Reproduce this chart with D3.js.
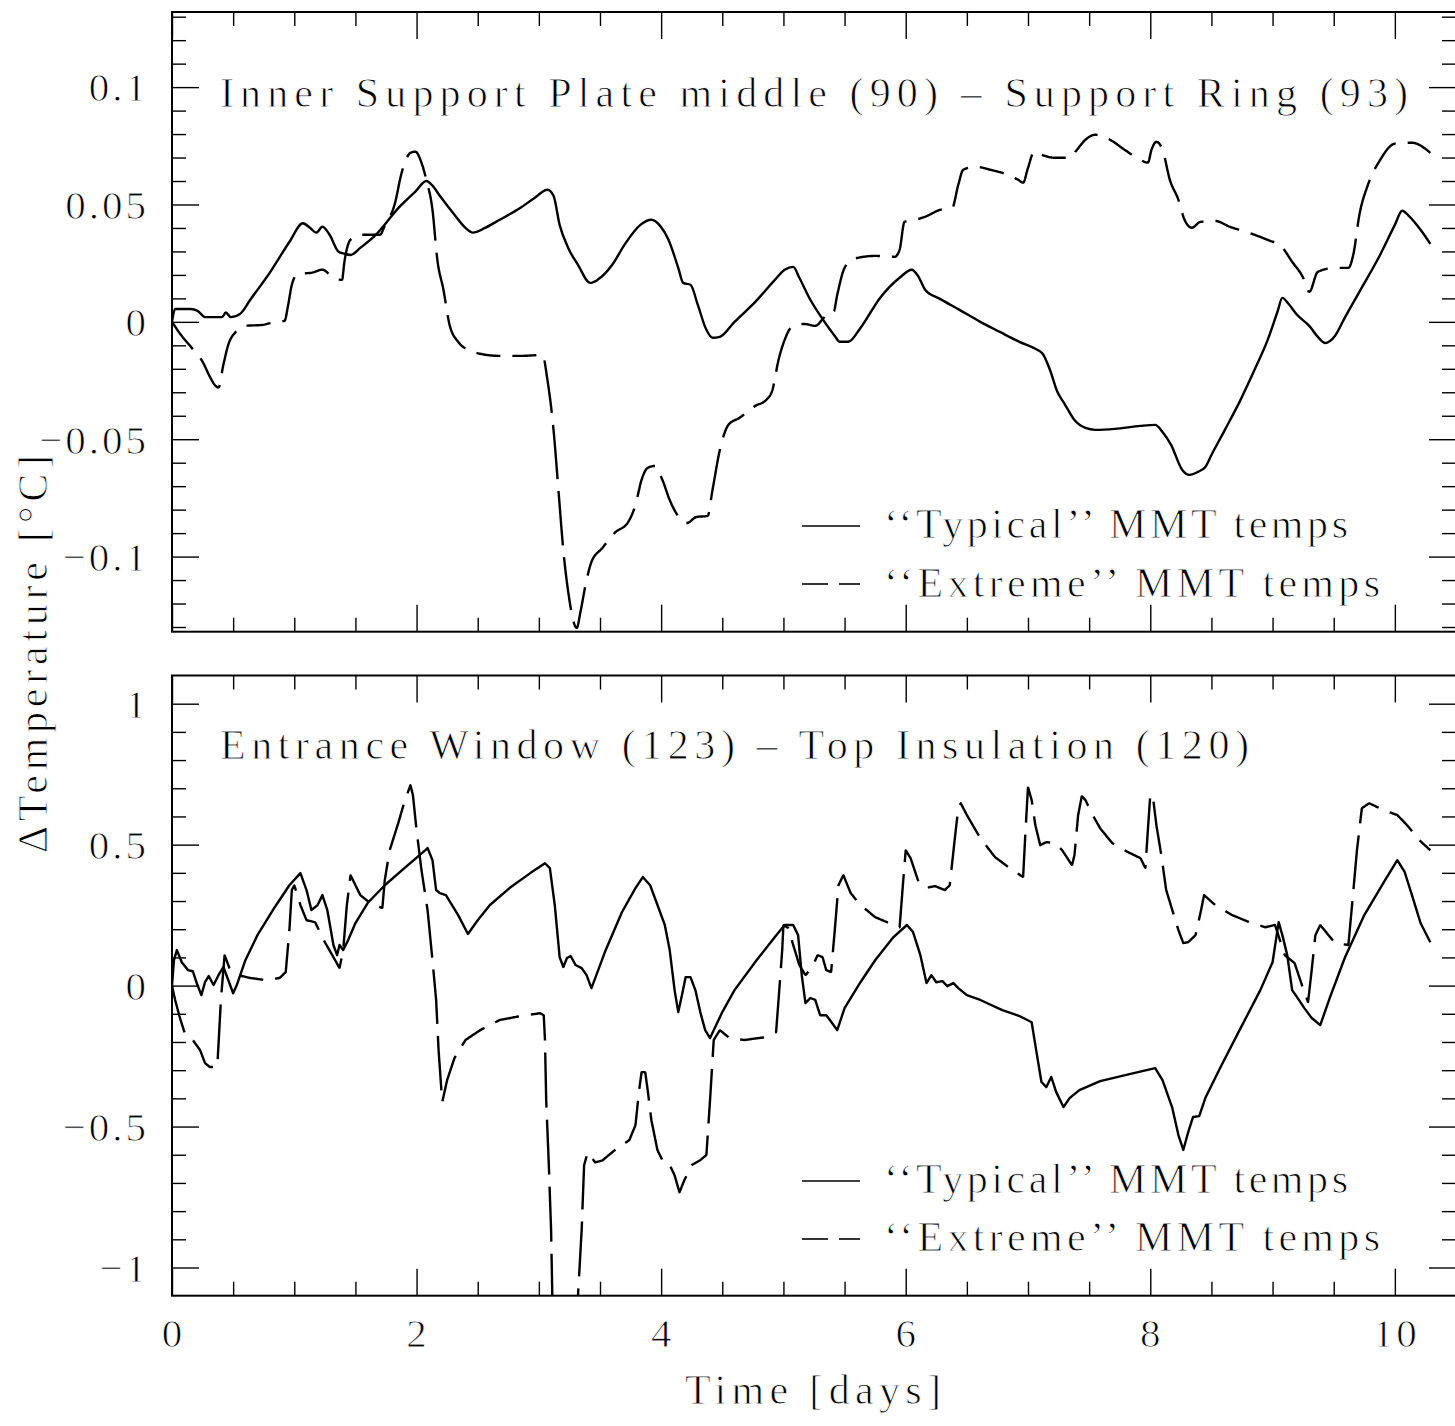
<!DOCTYPE html>
<html><head><meta charset="utf-8">
<script src="https://cdn.jsdelivr.net/npm/d3@7"></script>
<style>
body{margin:0;background:#fff}
text{font-family:"Liberation Serif","Times New Roman",serif;fill:#000;stroke:#fff;stroke-width:0.9px;paint-order:normal}
</style>
</head><body>
<svg id="chart" width="1455" height="1426"></svg>
<script>
// ---------------- DATA ----------------
const seriesNames = ["\u2018\u2018Typical\u2019\u2019 MMT temps", "\u2018\u2018Extreme\u2019\u2019 MMT temps"];
const panelTitles = ["Inner Support Plate middle (90) \u2013 Support Ring (93)",
                     "Entrance Window (123) \u2013 Top Insulation (120)"];
const xLabel = "Time [days]";
const yLabel = "\u0394Temperature [\u00B0C]";

const xTickValues = [0, 2, 4, 6, 8, 10];
const xTickLabels = ["0", "2", "4", "6", "8", "10"];
const topYTickValues = [-0.1, -0.05, 0, 0.05, 0.1];
const topYTickLabels = ["\u22120.1", "\u22120.05", "0", "0.05", "0.1"];
const bottomYTickValues = [-1, -0.5, 0, 0.5, 1];
const bottomYTickLabels = ["\u22121", "\u22120.5", "0", "0.5", "1"];

// [time (days), delta T (C)]
const topTypical = [[0,0],[0.025,0.0055],[0.15,0.0055],[0.21,0.0047],[0.27,0.002],[0.41,0.002],[0.44,0.004],[0.48,0.002],[0.56,0.0035],[0.64,0.0094],[0.8,0.021],[0.96,0.034],[1.07,0.042],[1.13,0.040],[1.18,0.038],[1.23,0.0405],[1.29,0.037],[1.36,0.030],[1.41,0.029],[1.46,0.0285],[1.54,0.0315],[1.66,0.0367],[1.86,0.049],[1.99,0.0555],[2.08,0.060],[2.13,0.058],[2.19,0.0537],[2.31,0.0456],[2.4,0.040],[2.46,0.038],[2.56,0.040],[2.68,0.0435],[2.85,0.0486],[2.97,0.053],[3.07,0.0563],[3.12,0.0537],[3.17,0.0413],[3.24,0.0315],[3.32,0.0243],[3.42,0.0166],[3.48,0.0179],[3.6,0.0243],[3.7,0.0328],[3.83,0.0413],[3.92,0.0435],[3.99,0.041],[4.06,0.035],[4.14,0.023],[4.18,0.0166],[4.24,0.0158],[4.3,0.0072],[4.37,-0.0034],[4.42,-0.0068],[4.48,-0.0064],[4.6,0.0],[4.77,0.0085],[4.93,0.0179],[5.01,0.0222],[5.08,0.0234],[5.13,0.0188],[5.22,0.0094],[5.31,0.002],[5.42,-0.006],[5.46,-0.0085],[5.53,-0.0085],[5.63,-0.0026],[5.79,0.0102],[5.95,0.0188],[6.05,0.0222],[6.1,0.0196],[6.16,0.0136],[6.28,0.0098],[6.44,0.0051],[6.61,0.0],[6.77,-0.0043],[6.93,-0.0085],[7.06,-0.0115],[7.12,-0.0136],[7.18,-0.0205],[7.24,-0.0298],[7.3,-0.035],[7.38,-0.0418],[7.47,-0.0452],[7.55,-0.046],[7.71,-0.0456],[7.92,-0.0443],[8.04,-0.0439],[8.1,-0.0469],[8.17,-0.0524],[8.26,-0.063],[8.32,-0.0652],[8.39,-0.0639],[8.45,-0.0618],[8.5,-0.0567],[8.61,-0.046],[8.73,-0.0341],[8.86,-0.0196],[8.96,-0.0077],[9.04,0.0043],[9.08,0.0102],[9.13,0.0077],[9.2,0.003],[9.3,-0.0017],[9.37,-0.0064],[9.43,-0.009],[9.51,-0.006],[9.59,0.0017],[9.71,0.0128],[9.88,0.0286],[10.0,0.0413],[10.06,0.0473],[10.12,0.0448],[10.21,0.0392],[10.29,0.0332]];

const topExtreme = [[0,0],[0.065,-0.005],[0.16,-0.011],[0.25,-0.017],[0.31,-0.0234],[0.35,-0.0269],[0.38,-0.028],[0.42,-0.0183],[0.46,-0.0098],[0.52,-0.0043],[0.6,-0.0017],[0.74,-0.0013],[0.84,0.0],[0.92,0.0004],[0.95,0.0072],[0.98,0.0158],[1.03,0.0205],[1.14,0.0209],[1.23,0.0222],[1.32,0.0188],[1.39,0.0179],[1.41,0.0256],[1.46,0.035],[1.55,0.0371],[1.7,0.0371],[1.74,0.0409],[1.82,0.0499],[1.88,0.0639],[1.95,0.072],[1.99,0.0725],[2.04,0.0678],[2.08,0.0605],[2.13,0.0477],[2.17,0.0264],[2.22,0.0136],[2.27,-0.0013],[2.34,-0.0085],[2.42,-0.0119],[2.52,-0.0136],[2.68,-0.0145],[2.85,-0.0145],[3.03,-0.0141],[3.07,-0.0247],[3.12,-0.046],[3.16,-0.0716],[3.2,-0.0972],[3.25,-0.1185],[3.28,-0.127],[3.31,-0.1304],[3.34,-0.1236],[3.39,-0.11],[3.43,-0.1023],[3.52,-0.0963],[3.62,-0.0899],[3.73,-0.0853],[3.79,-0.078],[3.84,-0.0673],[3.89,-0.0622],[3.95,-0.0614],[4.01,-0.0673],[4.07,-0.0759],[4.15,-0.0835],[4.21,-0.0857],[4.29,-0.0831],[4.38,-0.0827],[4.42,-0.0716],[4.48,-0.0546],[4.55,-0.0439],[4.64,-0.0409],[4.77,-0.0358],[4.86,-0.0332],[4.91,-0.029],[4.96,-0.0162],[5.01,-0.0077],[5.07,-0.0021],[5.17,-0.0009],[5.26,-0.0017],[5.33,0.0017],[5.38,0.0043],[5.41,0.0043],[5.44,0.0115],[5.5,0.023],[5.58,0.0269],[5.75,0.0281],[5.91,0.0277],[5.95,0.0307],[5.99,0.0426],[6.08,0.0435],[6.16,0.0448],[6.28,0.0477],[6.38,0.0486],[6.43,0.0584],[6.47,0.0648],[6.57,0.0661],[6.69,0.0648],[6.81,0.0631],[6.92,0.0605],[6.96,0.0593],[7.0,0.0656],[7.05,0.0725],[7.11,0.0712],[7.22,0.0699],[7.34,0.0699],[7.4,0.0733],[7.47,0.0776],[7.55,0.0797],[7.67,0.0776],[7.79,0.0733],[7.92,0.069],[7.98,0.0678],[8.01,0.0733],[8.05,0.0767],[8.1,0.0733],[8.16,0.0605],[8.23,0.052],[8.28,0.0435],[8.34,0.0401],[8.41,0.0426],[8.53,0.043],[8.65,0.0405],[8.81,0.0379],[8.98,0.0345],[9.06,0.0328],[9.16,0.0256],[9.25,0.0188],[9.3,0.0128],[9.37,0.0213],[9.51,0.023],[9.62,0.023],[9.66,0.0286],[9.71,0.0456],[9.78,0.0584],[9.88,0.069],[10.0,0.0759],[10.14,0.0763],[10.25,0.0737],[10.29,0.072]];

const bottomTypical = [[0,0.0],[0.016,0.09],[0.04,0.126],[0.08,0.083],[0.13,0.055],[0.17,0.051],[0.2,0.012],[0.24,-0.034],[0.27,0.012],[0.3,0.034],[0.34,0.002],[0.38,0.037],[0.42,0.066],[0.46,0.02],[0.5,-0.027],[0.53,0.002],[0.6,0.09],[0.7,0.18],[0.84,0.278],[0.96,0.356],[1.05,0.399],[1.1,0.339],[1.14,0.268],[1.19,0.285],[1.23,0.321],[1.27,0.268],[1.32,0.144],[1.35,0.108],[1.37,0.144],[1.4,0.126],[1.44,0.161],[1.5,0.222],[1.6,0.293],[1.74,0.356],[1.91,0.42],[2.07,0.48],[2.09,0.488],[2.13,0.445],[2.16,0.339],[2.19,0.328],[2.24,0.321],[2.34,0.25],[2.42,0.183],[2.5,0.232],[2.6,0.286],[2.76,0.346],[2.93,0.399],[3.05,0.434],[3.09,0.417],[3.13,0.286],[3.17,0.101],[3.2,0.066],[3.23,0.098],[3.26,0.105],[3.3,0.073],[3.35,0.062],[3.39,0.037],[3.43,-0.009],[3.47,0.037],[3.54,0.119],[3.68,0.261],[3.79,0.346],[3.85,0.385],[3.91,0.356],[3.97,0.286],[4.03,0.215],[4.07,0.126],[4.11,-0.016],[4.14,-0.094],[4.17,-0.034],[4.2,0.03],[4.24,0.03],[4.28,-0.016],[4.32,-0.094],[4.36,-0.158],[4.4,-0.186],[4.45,-0.14],[4.5,-0.094],[4.6,-0.016],[4.78,0.09],[4.93,0.172],[5.01,0.215],[5.08,0.215],[5.12,0.179],[5.15,0.037],[5.18,-0.062],[5.22,-0.044],[5.26,-0.051],[5.3,-0.105],[5.35,-0.105],[5.38,-0.122],[5.44,-0.158],[5.5,-0.08],[5.63,0.012],[5.75,0.09],[5.9,0.172],[6.01,0.215],[6.06,0.19],[6.12,0.108],[6.17,0.009],[6.21,0.037],[6.25,0.012],[6.3,0.016],[6.34,-0.002],[6.39,0.009],[6.43,-0.009],[6.5,-0.034],[6.61,-0.051],[6.79,-0.087],[6.93,-0.108],[7.03,-0.13],[7.06,-0.211],[7.11,-0.342],[7.15,-0.36],[7.19,-0.324],[7.23,-0.377],[7.29,-0.431],[7.34,-0.399],[7.42,-0.371],[7.59,-0.339],[7.83,-0.314],[8.04,-0.293],[8.1,-0.335],[8.18,-0.434],[8.23,-0.53],[8.27,-0.583],[8.31,-0.52],[8.35,-0.466],[8.4,-0.463],[8.45,-0.399],[8.57,-0.293],[8.73,-0.158],[8.9,-0.016],[9.0,0.083],[9.05,0.225],[9.08,0.179],[9.12,0.108],[9.16,-0.016],[9.2,-0.041],[9.26,-0.08],[9.32,-0.115],[9.39,-0.14],[9.47,-0.041],[9.59,0.098],[9.75,0.25],[9.92,0.374],[10.02,0.445],[10.08,0.403],[10.14,0.321],[10.21,0.222],[10.29,0.154]];

const bottomExtreme = [[0,0.0],[0.025,-0.05],[0.065,-0.115],[0.11,-0.176],[0.17,-0.193],[0.23,-0.229],[0.27,-0.275],[0.31,-0.289],[0.37,-0.289],[0.38,-0.211],[0.4,-0.051],[0.43,0.108],[0.47,0.062],[0.54,0.037],[0.64,0.027],[0.76,0.02],[0.88,0.027],[0.93,0.048],[0.96,0.197],[0.98,0.339],[1.0,0.356],[1.05,0.286],[1.1,0.232],[1.17,0.225],[1.25,0.154],[1.32,0.101],[1.37,0.062],[1.4,0.126],[1.43,0.286],[1.46,0.392],[1.5,0.356],[1.54,0.321],[1.62,0.293],[1.72,0.275],[1.74,0.374],[1.78,0.48],[1.85,0.576],[1.9,0.651],[1.95,0.711],[1.97,0.676],[2.0,0.551],[2.04,0.41],[2.09,0.268],[2.13,0.09],[2.16,-0.051],[2.18,-0.229],[2.2,-0.353],[2.21,-0.413],[2.25,-0.335],[2.31,-0.257],[2.4,-0.193],[2.52,-0.158],[2.68,-0.122],[2.85,-0.108],[3.01,-0.098],[3.04,-0.105],[3.05,-0.193],[3.06,-0.406],[3.08,-0.619],[3.1,-0.867],[3.11,-1.1],[3.22,-1.33],[3.32,-1.1],[3.35,-0.867],[3.37,-0.637],[3.4,-0.591],[3.46,-0.627],[3.52,-0.62],[3.62,-0.584],[3.74,-0.548],[3.79,-0.495],[3.82,-0.371],[3.84,-0.307],[3.87,-0.307],[3.89,-0.371],[3.92,-0.477],[3.97,-0.584],[4.01,-0.619],[4.06,-0.627],[4.11,-0.673],[4.15,-0.733],[4.19,-0.69],[4.25,-0.637],[4.32,-0.619],[4.37,-0.601],[4.4,-0.406],[4.43,-0.193],[4.48,-0.158],[4.56,-0.186],[4.68,-0.193],[4.85,-0.183],[4.94,-0.165],[4.96,-0.051],[4.99,0.126],[5.0,0.215],[5.04,0.204],[5.08,0.144],[5.13,0.073],[5.18,0.037],[5.23,0.062],[5.28,0.108],[5.32,0.101],[5.35,0.055],[5.39,0.048],[5.42,0.197],[5.45,0.356],[5.49,0.392],[5.55,0.328],[5.63,0.286],[5.75,0.243],[5.9,0.215],[5.95,0.207],[5.98,0.374],[6.0,0.48],[6.04,0.452],[6.1,0.374],[6.16,0.346],[6.24,0.353],[6.32,0.339],[6.36,0.356],[6.4,0.516],[6.43,0.629],[6.45,0.647],[6.5,0.605],[6.61,0.523],[6.73,0.456],[6.85,0.417],[6.96,0.385],[6.98,0.551],[7.0,0.704],[7.03,0.658],[7.06,0.569],[7.1,0.498],[7.15,0.509],[7.22,0.505],[7.28,0.48],[7.36,0.427],[7.38,0.463],[7.41,0.605],[7.44,0.672],[7.47,0.658],[7.52,0.612],[7.59,0.558],[7.69,0.505],[7.82,0.473],[7.92,0.452],[7.96,0.417],[7.98,0.551],[8.0,0.676],[8.02,0.676],[8.05,0.569],[8.09,0.463],[8.13,0.339],[8.18,0.268],[8.23,0.197],[8.27,0.151],[8.31,0.154],[8.37,0.179],[8.41,0.257],[8.44,0.321],[8.53,0.286],[8.67,0.25],[8.81,0.225],[8.94,0.207],[9.02,0.215],[9.1,0.108],[9.18,0.08],[9.24,0.002],[9.29,-0.059],[9.32,0.055],[9.35,0.179],[9.39,0.215],[9.51,0.151],[9.62,0.144],[9.65,0.286],[9.69,0.48],[9.73,0.629],[9.79,0.647],[9.91,0.622],[10.02,0.605],[10.1,0.569],[10.2,0.516],[10.29,0.48]];

// ---------------- LAYOUT ----------------
const svg = d3.select("#chart");
const X0 = 172, X1 = 1456;
const x = d3.scaleLinear().domain([0, 10.5]).range([X0, X1]);
const xMinor = d3.range(0, 21).map(i => i * 0.5).filter(v => !xTickValues.includes(v));

const panels = [
  { top: 12, bottom: 631.7, domain: [-0.132, 0.132], typical: topTypical, extreme: topExtreme,
    yMajor: topYTickValues, yLabels: topYTickLabels, yMinor: d3.range(-13, 14).map(i => i / 100),
    title: panelTitles[0], titleBase: 107, titleLen: 1188, curve: d3.curveMonotoneX,
    legLine: [526, 584], legBase: [538, 597], showX: false },
  { top: 675.5, bottom: 1295.7, domain: [-1.1, 1.1], typical: bottomTypical, extreme: bottomExtreme,
    yMajor: bottomYTickValues, yLabels: bottomYTickLabels, yMinor: d3.range(-10, 11).map(i => i / 10),
    title: panelTitles[1], titleBase: 759, titleLen: 1029, curve: d3.curveLinear,
    legLine: [1181, 1239], legBase: [1193, 1251], showX: true }
];

// custom dasher: on-length measured with compressed vertical metric (like the original plot)
function dashPieces(pts, on, off, k) {
  const out = []; let cur = null; let drawing = true; let remain = on;
  for (let i = 1; i < pts.length; i++) {
    const [x0, y0] = pts[i - 1], [x1, y1] = pts[i];
    const dx = x1 - x0, dy = y1 - y0, L = Math.hypot(dx, dy);
    if (L === 0) continue;
    let t = 0;
    while (t < 1 - 1e-12) {
      const rate = drawing ? Math.hypot(dx, dy / k) : L;
      const tEnd = Math.min(1, t + remain / rate);
      if (drawing) {
        if (!cur) cur = [[x0 + dx * t, y0 + dy * t]];
        cur.push([x0 + dx * tEnd, y0 + dy * tEnd]);
      }
      remain -= (tEnd - t) * rate;
      t = tEnd;
      if (remain <= 1e-9) {
        if (drawing) { out.push(cur); cur = null; }
        drawing = !drawing; remain = drawing ? on : off;
      }
    }
  }
  if (cur) out.push(cur);
  return out;
}
// sample a (possibly curved) d3 line into dense points
function samplePath(pts, curve) {
  const tmp = svg.append("path").attr("d", d3.line().curve(curve)(pts));
  const node = tmp.node(), total = node.getTotalLength(), res = [];
  for (let s = 0; s <= total; s += 1) { const q = node.getPointAtLength(s); res.push([q.x, q.y]); }
  const q = node.getPointAtLength(total); res.push([q.x, q.y]);
  tmp.remove();
  return res;
}
const DASH_ON = 24, DASH_OFF = 12, DASH_K = 2.3;
const lineGen = d3.line();

panels.forEach((p, idx) => {
  const y = d3.scaleLinear().domain(p.domain).range([p.bottom, p.top]);
  const g = svg.append("g");
  const clipId = "clip" + idx;
  svg.append("clipPath").attr("id", clipId).append("rect")
    .attr("x", X0).attr("y", p.top).attr("width", X1 - X0).attr("height", p.bottom - p.top);

  // ticks
  const tk = (sel) => sel.call(s => s.select(".domain").remove())
    .selectAll("line").attr("stroke", "#000").attr("stroke-width", 1.4);
  const yMinor = p.yMinor.filter(v => !p.yMajor.includes(v) && v > p.domain[0] && v < p.domain[1]);
  g.append("g").attr("transform", `translate(0,${p.bottom})`).call(d3.axisBottom(x).tickValues(xMinor).tickSize(-14).tickFormat("")).call(tk);
  g.append("g").attr("transform", `translate(0,${p.bottom})`).call(d3.axisBottom(x).tickValues(xTickValues).tickSize(-27).tickFormat("")).call(tk);
  g.append("g").attr("transform", `translate(0,${p.top})`).call(d3.axisTop(x).tickValues(xMinor).tickSize(-14).tickFormat("")).call(tk);
  g.append("g").attr("transform", `translate(0,${p.top})`).call(d3.axisTop(x).tickValues(xTickValues).tickSize(-27).tickFormat("")).call(tk);
  g.append("g").attr("transform", `translate(${X0},0)`).call(d3.axisLeft(y).tickValues(yMinor).tickSize(-14).tickFormat("")).call(tk);
  g.append("g").attr("transform", `translate(${X0},0)`).call(d3.axisLeft(y).tickValues(p.yMajor).tickSize(-27).tickFormat("")).call(tk);
  g.append("g").attr("transform", `translate(${X1},0)`).call(d3.axisRight(y).tickValues(yMinor).tickSize(-14).tickFormat("")).call(tk);
  g.append("g").attr("transform", `translate(${X1},0)`).call(d3.axisRight(y).tickValues(p.yMajor).tickSize(-27).tickFormat("")).call(tk);

  // frame
  g.append("rect").attr("x", X0).attr("y", p.top).attr("width", X1 - X0).attr("height", p.bottom - p.top)
    .attr("fill", "none").attr("stroke", "#000").attr("stroke-width", 2);

  // y tick labels
  g.selectAll(".ylab").data(p.yMajor).enter().append("text")
    .attr("x", 149).attr("y", d => y(d)).attr("dy", "0.35em")
    .attr("text-anchor", "end").attr("font-size", 41).attr("letter-spacing", 3)
    .text((d, i) => p.yLabels[i]);

  // x tick labels
  if (p.showX) {
    g.selectAll(".xlab").data(xTickValues).enter().append("text")
      .attr("x", d => x(d) + 1.5).attr("y", 1347)
      .attr("text-anchor", "middle").attr("font-size", 41).attr("letter-spacing", 3)
      .text((d, i) => xTickLabels[i]);
  }

  // title
  g.append("text").attr("x", 220).attr("y", p.titleBase).attr("font-size", 42)
    .attr("textLength", p.titleLen).attr("lengthAdjust", "spacing").text(p.title);

  // curves
  const cg = g.append("g").attr("clip-path", `url(#${clipId})`);
  const tPts = p.typical.map(d => [x(d[0]), y(d[1])]);
  cg.append("path").attr("d", d3.line().curve(p.curve)(tPts)).attr("fill", "none").attr("stroke", "#000")
    .attr("stroke-width", 2.4).attr("stroke-linejoin", "round");
  const ePts = samplePath(p.extreme.map(d => [x(d[0]), y(d[1])]), p.curve);
  dashPieces(ePts, DASH_ON, DASH_OFF, DASH_K).forEach(seg => {
    cg.append("path").attr("d", lineGen(seg)).attr("fill", "none").attr("stroke", "#000")
      .attr("stroke-width", 2.4).attr("stroke-linejoin", "round");
  });

  // legend
  g.append("line").attr("x1", 802).attr("x2", 860).attr("y1", p.legLine[0]).attr("y2", p.legLine[0])
    .attr("stroke", "#000").attr("stroke-width", 1.6);
  dashPieces([[802, p.legLine[1]], [860, p.legLine[1]]], 26, 11, 1).forEach(seg => {
    g.append("path").attr("d", lineGen(seg)).attr("stroke", "#000").attr("stroke-width", 1.6).attr("fill", "none");
  });
  g.append("text").attr("x", 884).attr("y", p.legBase[0]).attr("font-size", 42)
    .attr("textLength", 464).attr("lengthAdjust", "spacing").text(seriesNames[0]);
  g.append("text").attr("x", 884).attr("y", p.legBase[1]).attr("font-size", 42)
    .attr("textLength", 496).attr("lengthAdjust", "spacing").text(seriesNames[1]);
});

// axis labels
svg.append("text").attr("x", 813).attr("y", 1404).attr("text-anchor", "middle").attr("font-size", 42)
  .attr("textLength", 256).attr("lengthAdjust", "spacing").text(xLabel);
svg.append("text").attr("transform", "translate(47,654) rotate(-90)").attr("text-anchor", "middle")
  .attr("font-size", 42).attr("textLength", 398).attr("lengthAdjust", "spacing").text(yLabel);
</script>
</body></html>
